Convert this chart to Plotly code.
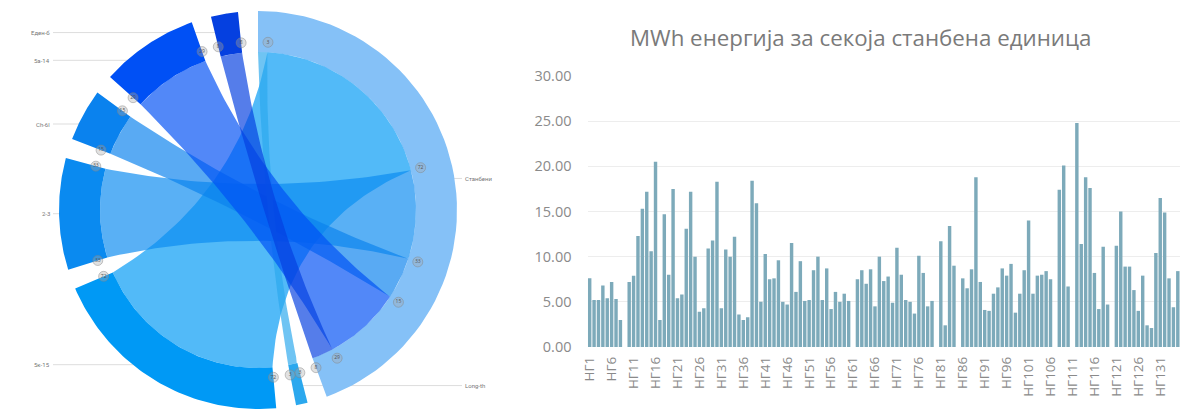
import math
import plotly.graph_objects as go

# ---------- chord diagram data ----------
hub_name = "Станбени"
hub_color = "#85C1F7"
target_names = ["Long-th", "5к-15", "2-3", "Ch-6l", "5а-14", "Еден-б"]
target_values = [3.4, 72.0, 32.6, 15.3, 28.6, 7.9]
target_colors = ["#2BA8EE", "#0099F5", "#0A8AF0", "#0A82EE", "#0050F5", "#0540E0"]

# ---------- bar chart data ----------
bar_values = [
    7.6, 5.2, 5.2, 6.8, 5.4, 7.2, 5.3, 3.0, 0, 7.2,
    7.9, 12.3, 15.3, 17.2, 10.6, 20.5, 3.0, 14.7, 8.0, 17.5,
    5.4, 5.8, 13.1, 17.2, 10.0, 3.9, 4.3, 10.9, 11.8, 18.3,
    4.3, 10.8, 10.0, 12.2, 3.6, 3.0, 3.3, 18.4, 15.9, 5.0,
    10.3, 7.5, 7.6, 9.6, 5.0, 4.7, 11.5, 6.1, 9.5, 5.1,
    5.2, 8.5, 10.0, 5.2, 8.7, 4.2, 6.1, 5.0, 5.9, 5.1,
    0, 7.5, 8.5, 7.0, 8.6, 4.5, 10.0, 7.3, 7.8, 4.9,
    11.0, 8.0, 5.2, 5.0, 3.7, 10.1, 8.2, 4.5, 5.1, 0,
    11.7, 2.4, 13.4, 9.0, 0, 7.6, 6.5, 8.6, 18.8, 7.2,
    4.1, 4.0, 5.9, 6.6, 8.7, 7.9, 9.2, 3.8, 5.9, 8.5,
    14.0, 5.9, 7.9, 8.0, 8.4, 7.5, 0, 17.4, 20.1, 6.7,
    0, 24.8, 11.4, 18.8, 17.6, 8.2, 4.2, 11.1, 4.7, 0,
    11.2, 15.0, 8.9, 8.9, 6.3, 4.0, 7.9, 2.4, 2.1, 10.4,
    16.5, 14.9, 7.6, 4.4, 8.4,
]
bar_names = [f"НГ{i + 1}" for i in range(len(bar_values))]
bar_ticks = bar_names[::5]
y_ticks = [0, 5, 10, 15, 20, 25, 30]
title_text = "MWh енергија за секоја станбена единица"

# ---------- geometry helpers ----------
R_OUT, R_IN, R_LABEL, R_BADGE = 199, 158, 180, 168
PULL = 0.28
W, H = 1194, 410


def pt(angle, r):
    a = math.radians(angle)
    return r * math.sin(a), r * math.cos(a)


def arc(a0, a1, r, n=60):
    return [pt(a0 + (a1 - a0) * i / n, r) for i in range(n + 1)]


def bez(p0, p1, n=50):
    cx, cy = PULL * (p0[0] + p1[0]) / 2, PULL * (p0[1] + p1[1]) / 2
    out = []
    for i in range(n + 1):
        t = i / n
        m = 2 * t * (1 - t)
        out.append(((1 - t) ** 2 * p0[0] + m * cx + t ** 2 * p1[0],
                    (1 - t) ** 2 * p0[1] + m * cy + t ** 2 * p1[1]))
    return out


def rgba(hex_c, alpha):
    h = hex_c.lstrip("#")
    return f"rgba({int(h[:2], 16)},{int(h[2:4], 16)},{int(h[4:], 16)},{alpha})"


def poly(points, color):
    return go.Scatter(
        x=[p[0] for p in points], y=[p[1] for p in points],
        mode="lines", fill="toself", fillcolor=color, line=dict(width=0),
        hoverinfo="skip", showlegend=False, xaxis="x2", yaxis="y2",
    )


# ---------- chord layout ----------
gap = (360 - 2 * sum(target_values)) / (len(target_values) + 1)
hub_span = sum(target_values)
nodes = []
cur = hub_span + gap
for v in target_values:
    nodes.append((cur, cur + v))
    cur += v + gap
src = []
cur = 0.0
for v in target_values:
    src.append((cur, cur + v))
    cur += v

fig = go.Figure()

# leader lines and their labels
all_names = [hub_name] + target_names
all_arcs = [(0.0, hub_span)] + nodes
annots = []
for name, (a0, a1) in zip(all_names, all_arcs):
    x0, y0 = pt((a0 + a1) / 2, R_LABEL)
    right = x0 > 0
    x1 = 204 if right else -205
    fig.add_trace(go.Scatter(x=[x0, x1], y=[y0, y0], mode="lines",
                             line=dict(color="#DDDDDD", width=1), hoverinfo="skip",
                             showlegend=False, xaxis="x2", yaxis="y2"))
    annots.append(dict(x=x1 + (1 if right else -1), y=y0, xref="x2", yref="y2", text=name,
                       showarrow=False, xanchor="left" if right else "right",
                       font=dict(size=6, color="#777777", family="Roboto")))


# outer rings
def ring(a0, a1):
    return arc(a0, a1, R_OUT) + arc(a1, a0, R_IN)


fig.add_trace(poly(ring(0, hub_span), hub_color))
for (a0, a1), c in zip(nodes, target_colors):
    fig.add_trace(poly(ring(a0, a1), c))

# ribbons
draw_order = [1, 2, 3, 0, 4, 5]
for k in draw_order:
    s0, s1 = src[k]
    t0, t1 = nodes[k]
    path = (arc(s0, s1, R_IN, 30)
            + bez(pt(s1, R_IN), pt(t0, R_IN))
            + arc(t0, t1, R_IN, 30)
            + bez(pt(t1, R_IN), pt(s0, R_IN)))
    fig.add_trace(poly(path, rgba(target_colors[k], 0.68)))

# value badges
bx, by, bt = [], [], []
for k in range(len(target_values)):
    for angle in (src[k][1], nodes[k][0], nodes[k][1]):
        x, y = pt(angle, R_BADGE)
        bx.append(x)
        by.append(y)
        bt.append(f"{target_values[k]:.0f}")
fig.add_trace(go.Scatter(
    x=bx, y=by, text=bt, mode="markers+text", textposition="middle center",
    textfont=dict(size=5, color="#555555"),
    marker=dict(size=10, color="rgba(170,170,170,0.35)", line=dict(width=1, color="rgba(130,130,130,0.45)")),
    hoverinfo="skip", showlegend=False, xaxis="x2", yaxis="y2",
))

# bars
fig.add_trace(go.Bar(x=bar_names, y=bar_values, marker=dict(color="#7DAABA", line=dict(width=0)),
                     showlegend=False, xaxis="x", yaxis="y"))

annots.append(dict(x=860 / W, y=1 - 38 / H, xref="paper", yref="paper", text=title_text, showarrow=False,
                   xanchor="center", yanchor="middle",
                   font=dict(size=22.3, color="#7A7A7A", family="Open Sans")))

fig.update_layout(
    template="none",
    width=W, height=H, margin=dict(l=0, r=0, t=0, b=0, pad=0), autosize=False,
    paper_bgcolor="white", plot_bgcolor="white", bargap=0.22, annotations=annots,
    font=dict(family="Open Sans"),
    xaxis=dict(domain=[587.5 / W, 1180 / W], categoryorder="array", categoryarray=bar_names,
               tickmode="array", tickvals=bar_ticks, ticktext=bar_ticks, tickangle=-90,
               tickfont=dict(size=13.5, color="#8A8A8A"), showgrid=False, ticks="", zeroline=False,
               showline=False, anchor="y", automargin=False, ticklabelstandoff=6),
    yaxis=dict(domain=[63 / H, 334 / H], range=[0, 30], tickmode="array", tickvals=y_ticks,
               ticktext=[f"{v:.2f}" for v in y_ticks], tickfont=dict(size=14.5, color="#8A8A8A"),
               gridcolor="#EDEDED", gridwidth=1, zeroline=False, showline=False, ticks="",
               anchor="x", automargin=False, ticklabelstandoff=15),
    xaxis2=dict(domain=[0, 500 / W], range=[-258, 242], visible=False, anchor="y2", fixedrange=True,
                automargin=False),
    yaxis2=dict(domain=[0, 1], range=[-200, 210], visible=False, anchor="x2", fixedrange=True,
                automargin=False),
)

fig.write_html("out.html", config=dict(displayModeBar=False),
               post_script="document.body.style.margin='0';document.body.style.overflow='hidden';")
